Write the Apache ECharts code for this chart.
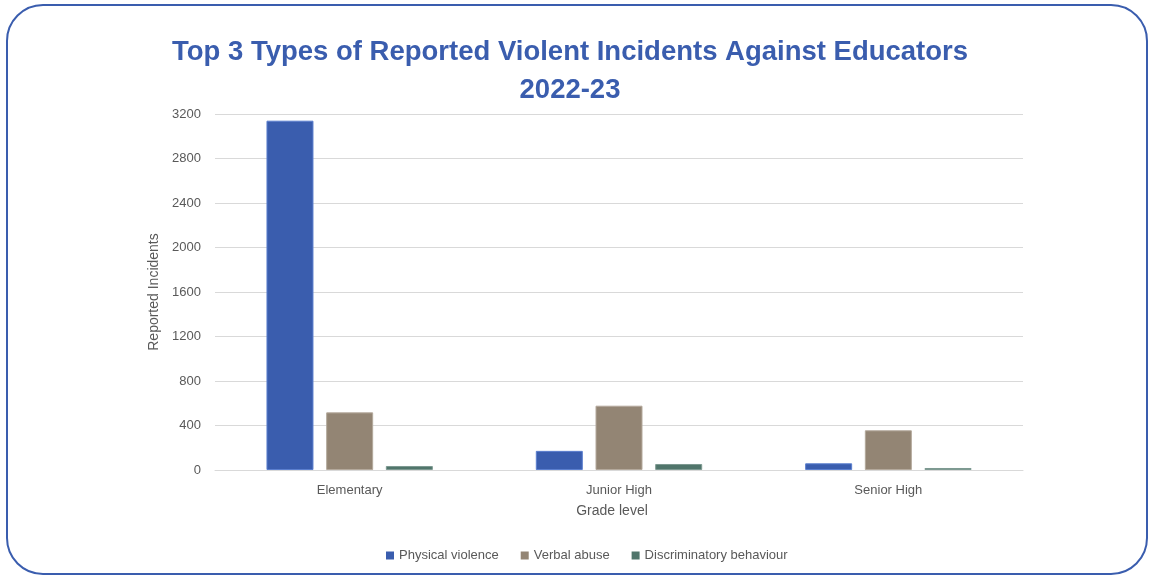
<!DOCTYPE html>
<html>
<head>
<meta charset="utf-8">
<script src="https://cdn.jsdelivr.net/npm/echarts@6/dist/echarts.min.js"></script>
<style>html,body{margin:0;padding:0;background:#fff}#c{width:1152px;height:575px}</style>
</head>
<body>
<div id="c"></div>
<script>
const categories = ['Elementary', 'Junior High', 'Senior High'];
const physicalViolence = [3140, 172, 60];
const verbalAbuse = [518, 578, 357];
const discriminatoryBehaviour = [36, 54, 18];
const yTicks = { min: 0, max: 3200, interval: 400 };

const chart = echarts.init(document.getElementById('c'), null, { renderer: 'canvas' });
const font = '"Liberation Sans", Arial, sans-serif';
function bar(name, data, color, border) {
  return {
    name, type: 'bar', data, barWidth: 47, barGap: '27%',
    itemStyle: { color, borderColor: border, borderWidth: 1 }
  };
}
chart.setOption({
  animation: false,
  textStyle: { fontFamily: font },
  graphic: [{
    type: 'rect',
    shape: { x: 7, y: 5, width: 1140, height: 569, r: 36 },
    style: { fill: 'none', stroke: '#3A5DAE', lineWidth: 2 }, z: 100
  }],
  title: {
    text: 'Top 3 Types of Reported Violent Incidents Against Educators\n2022-23',
    left: 565, textAlign: 'center', top: 28,
    textStyle: { color: '#3A5DAE', fontSize: 27.5, fontWeight: 'bold', fontFamily: font, lineHeight: 38 }
  },
  legend: {
    bottom: 8, left: 381, itemWidth: 8, itemHeight: 8, itemGap: 22,
    icon: 'rect',
    itemStyle: { borderWidth: 0 },
    textStyle: { color: '#595959', fontSize: 13, fontFamily: font }
  },
  grid: { left: 215, right: 129, top: 114, bottom: 105, containLabel: false },
  xAxis: {
    type: 'category', data: categories,
    name: 'Grade level', nameLocation: 'middle', nameGap: 34,
    nameTextStyle: { color: '#595959', fontSize: 14, fontFamily: font, padding: [0, 14, 0, 0] },
    axisLine: { lineStyle: { color: '#d9d9d9', width: 1 } },
    axisTick: { show: false },
    axisLabel: { color: '#595959', fontSize: 13, margin: 14, fontFamily: font }
  },
  yAxis: {
    type: 'value', min: yTicks.min, max: yTicks.max, interval: yTicks.interval,
    name: 'Reported Incidents', nameLocation: 'middle', nameGap: 42,
    nameTextStyle: { color: '#595959', fontSize: 14, fontFamily: font },
    axisLine: { show: false }, axisTick: { show: false },
    axisLabel: { color: '#595959', fontSize: 13, margin: 14, fontFamily: font, formatter: v => String(v) },
    splitLine: { lineStyle: { color: '#d9d9d9', width: 1 } }
  },
  series: [
    bar('Physical violence', physicalViolence, '#3A5DAE', '#5B7FCF'),
    bar('Verbal abuse', verbalAbuse, '#938574', '#B4A99C'),
    bar('Discriminatory behaviour', discriminatoryBehaviour, '#50756B', '#7E9A92')
  ]
});
</script>
</body>
</html>
